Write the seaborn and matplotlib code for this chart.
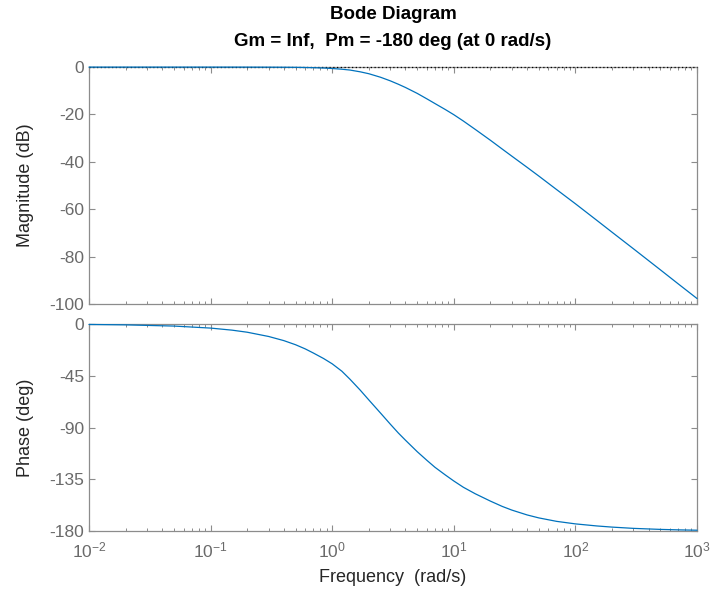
import numpy as np
import pandas as pd
import matplotlib
matplotlib.use("Agg")
import matplotlib.pyplot as plt
import seaborn as sns
from matplotlib.ticker import LogLocator, NullFormatter

# values
freq = [0.01, 0.02, 0.05, 0.1, 0.15, 0.2, 0.3, 0.4, 0.5, 0.6, 0.7, 0.85, 1,
        1.2, 1.4, 1.7, 2, 2.5, 3, 3.5, 4, 5, 6, 7, 8.5, 10, 12, 15, 20, 25,
        30, 40, 50, 70, 100, 150, 200, 300, 500, 700, 1000]
magnitude_db = [0, 0, 0, 0, 0, -0.01, -0.03, -0.06, -0.1, -0.17, -0.25, -0.4,
                -0.6, -0.9, -1.25, -2.0, -2.8, -4.3, -5.8, -7.25, -8.6, -11.1,
                -13.4, -15.4, -17.9, -20.1, -22.8, -26.3, -30.9, -34.6, -37.6,
                -42.3, -46.0, -51.7, -57.7, -64.7, -69.7, -76.7, -85.6, -91.5,
                -97.7]
phase_deg = [-0.35, -0.7, -1.75, -3.5, -5.3, -7.1, -10.8, -14.4, -18.0, -21.6,
             -25.2, -30.0, -34.6, -41.0, -48.0, -57.5, -66.0, -77.5, -87.0,
             -94.8, -101.0, -111.0, -118.5, -124.6, -131.2, -136.5, -142.0,
             -147.6, -154.0, -158.6, -161.8, -166.0, -168.6, -171.6, -173.8,
             -175.6, -176.6, -177.7, -178.6, -179.0, -179.3]
mag_ticks = [0, -20, -40, -60, -80, -100]
phase_ticks = [0, -45, -90, -135, -180]
freq_ticks = [1e-2, 1e-1, 1e0, 1e1, 1e2, 1e3]

df = pd.DataFrame({"freq": freq, "mag": magnitude_db, "phase": phase_deg})

sns.set_style("ticks")
plt.rcParams["font.family"] = ["Liberation Sans", "DejaVu Sans"]
plt.rcParams["axes.unicode_minus"] = False

line_color = "#0072BD"
spine_color = "#8c8c8c"
tick_color = "#6a6a6a"
label_color = "#262626"

fig = plt.figure(figsize=(7.12, 5.99), dpi=100)
ax_mag = fig.add_axes([0.125, 0.4925, 0.854, 0.3955])
ax_ph = fig.add_axes([0.125, 0.1135, 0.854, 0.3455], sharex=ax_mag)

# 0 dB reference line (dotted), drawn over the top spine like matlab's margin()
ax_mag.axhline(0, color="black", ls=(0, (1, 2)), lw=0.9, zorder=2.8, clip_on=False)
sns.lineplot(data=df, x="freq", y="mag", ax=ax_mag, color=line_color, lw=0.9,
             zorder=3, clip_on=False)
sns.lineplot(data=df, x="freq", y="phase", ax=ax_ph, color=line_color, lw=0.9,
             zorder=3, clip_on=False)

for ax in (ax_mag, ax_ph):
    ax.set_xscale("log")
    ax.set_xlim(1e-2, 1e3)
    ax.xaxis.set_major_locator(LogLocator(base=10, numticks=10))
    ax.xaxis.set_minor_locator(LogLocator(base=10, subs=np.arange(2, 10), numticks=20))
    ax.tick_params(which="both", direction="in", top=True, right=True,
                   colors=spine_color, labelcolor=tick_color, labelsize=12.5)
    ax.tick_params(which="major", length=4, width=0.8)
    ax.tick_params(which="minor", length=2.5, width=0.7)
    for s in ax.spines.values():
        s.set_color(spine_color)
        s.set_linewidth(0.9)
    ax.set_xlabel("")

ax_mag.set_ylim(-100, 0)
ax_mag.set_yticks(mag_ticks)
ax_mag.xaxis.set_minor_formatter(NullFormatter())
ax_mag.tick_params(axis="x", which="both", labelbottom=False)
ax_mag.set_ylabel("Magnitude (dB)", fontsize=13, color=label_color, labelpad=11)

ax_ph.set_ylim(-180, 0)
ax_ph.set_yticks(phase_ticks)
ax_ph.set_xticks(freq_ticks)
ax_ph.xaxis.set_minor_formatter(NullFormatter())
ax_ph.tick_params(axis="x", which="major", pad=7)
ax_ph.set_ylabel("Phase (deg)", fontsize=13, color=label_color, labelpad=11)
ax_ph.set_xlabel("Frequency  (rad/s)", fontsize=13, color=label_color, labelpad=6)

fig.text(0.552, 0.975, "Bode Diagram", ha="center", va="center",
         fontsize=13.5, fontweight="bold", color="black")
fig.text(0.552, 0.931, "Gm = Inf,  Pm = -180 deg (at 0 rad/s)", ha="center", va="center",
         fontsize=13.5, fontweight="bold", color="black")

fig.savefig("out.png", dpi=100)
